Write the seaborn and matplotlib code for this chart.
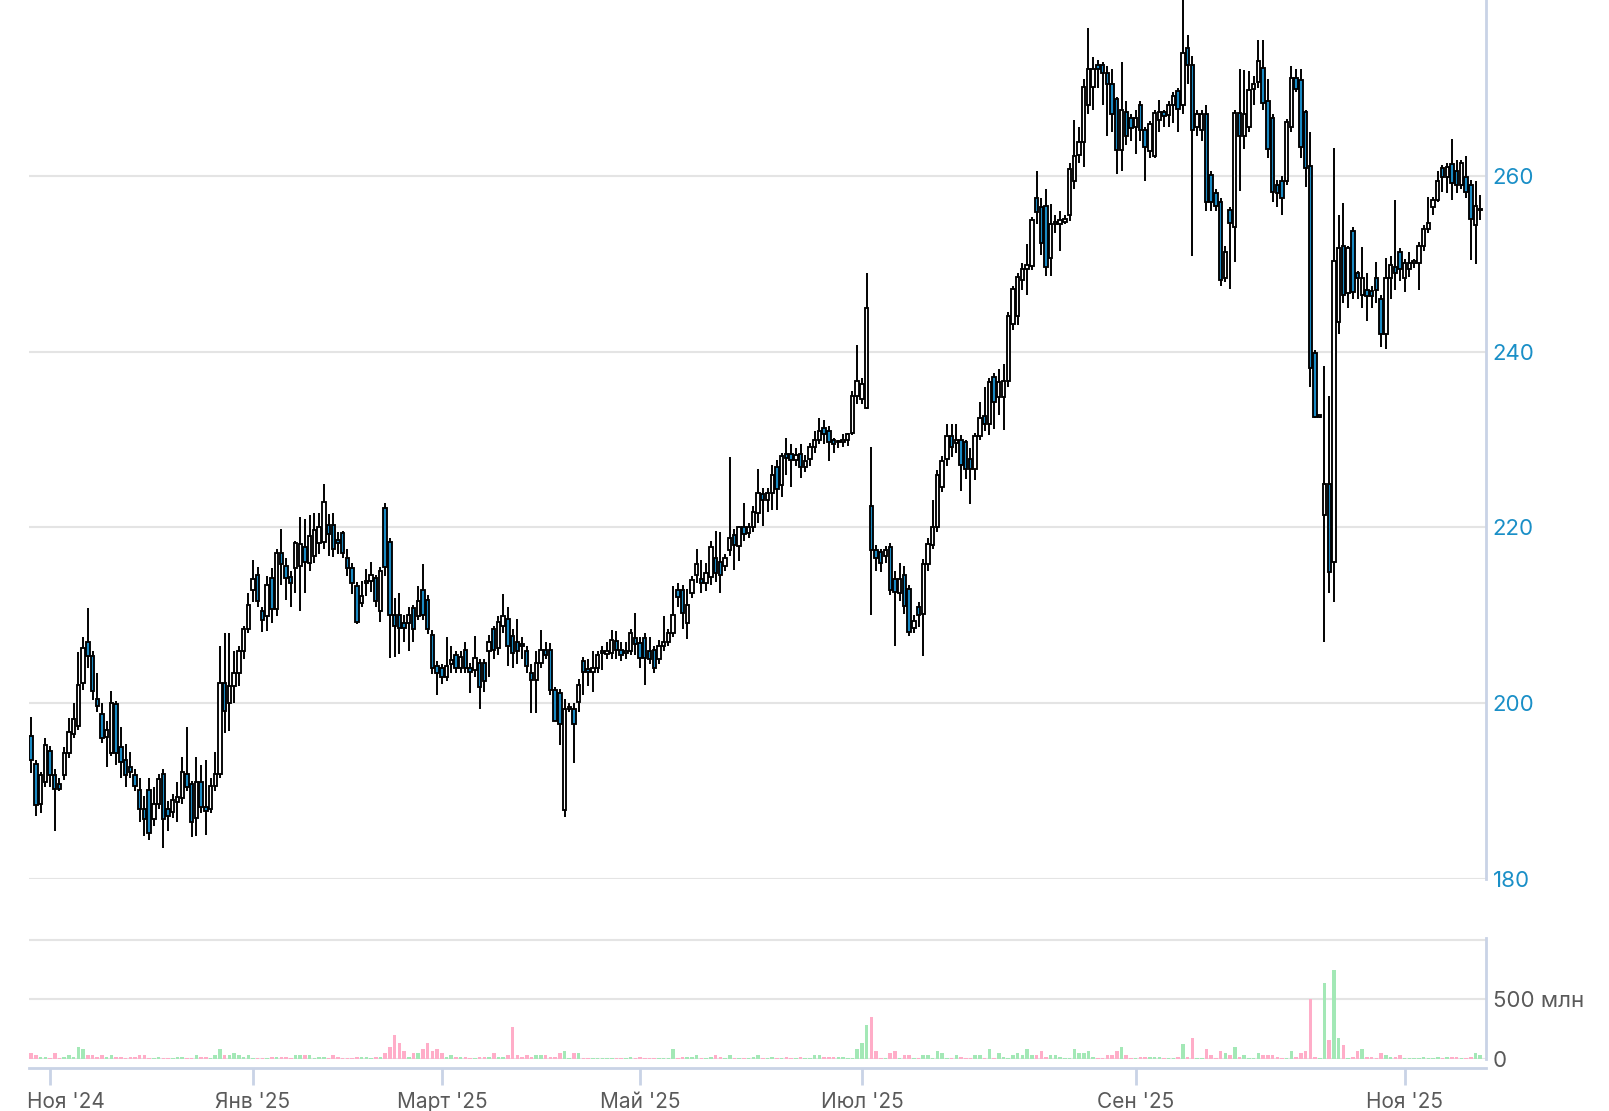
import numpy as np
import pandas as pd
import matplotlib
matplotlib.use("Agg")
import matplotlib.pyplot as plt
import matplotlib.transforms as mtransforms
import seaborn as sns

# ---- data (daily candles, rub) ----
opens = [196.3,193.1,188.5,191.0,194.6,191.8,190.8,191.8,194.4,196.5,197.4,202.3,207.0,205.4,200.5,198.8,196.2,194.4,199.9,195.0,
193.5,192.8,191.9,190.1,188.0,190.1,186.8,188.5,192.0,188.0,187.6,188.8,189.2,192.0,190.8,187.0,191.1,188.2,188.0,190.6,
192.0,202.3,200.0,202.0,203.4,206.0,208.4,212.9,214.6,210.5,209.9,214.3,210.7,217.1,215.6,214.4,215.4,215.6,217.8,216.0,
216.7,218.2,218.4,220.3,220.3,218.6,219.4,216.5,215.4,213.4,211.4,213.7,213.9,214.2,210.5,222.2,218.3,210.1,210.1,209.1,
209.1,210.8,209.9,212.9,211.8,207.8,204.2,204.0,203.0,204.5,205.5,204.0,206.1,204.0,203.8,204.6,204.6,205.9,208.4,206.3,
208.8,209.6,207.6,207.0,206.8,205.9,203.4,202.7,204.6,206.1,206.1,201.5,201.2,187.9,199.3,199.4,200.2,204.8,203.9,203.6,
204.0,205.7,205.6,205.7,207.1,206.1,205.7,205.9,207.4,206.9,207.4,205.9,206.1,205.0,206.5,207.0,208.0,212.9,212.9,209.1,
212.5,214.6,214.1,213.7,214.4,216.5,216.1,215.6,217.4,219.2,217.9,220.0,219.4,220.0,221.6,223.8,223.1,223.9,226.9,224.8,
228.4,228.4,227.7,228.4,226.9,227.8,229.2,229.9,231.3,231.0,229.9,229.7,229.7,229.9,230.8,235.0,234.6,233.6,222.5,217.4,
217.2,216.8,217.8,214.1,212.6,214.6,213.0,208.6,210.9,210.2,215.8,218.0,220.0,224.6,227.8,230.4,229.6,229.9,229.7,227.8,
226.7,230.4,232.7,231.8,237.1,234.8,234.8,236.7,243.2,244.0,248.2,249.4,249.7,257.5,256.4,256.6,250.6,254.5,254.5,254.8,
255.5,259.4,262.4,263.8,268.0,270.1,272.6,272.6,271.7,270.5,268.7,262.9,267.3,266.6,265.6,268.0,265.2,262.8,262.3,266.4,
267.3,266.9,268.0,269.7,268.0,274.5,272.6,265.6,265.2,267.0,260.1,258.0,257.0,248.4,256.1,254.2,267.1,264.5,265.5,269.9,
270.7,272.3,268.5,266.6,259.0,259.4,259.4,265.6,271.1,270.9,267.3,261.1,239.8,232.6,221.4,225.0,216.1,243.4,252.0,246.7,
253.7,248.9,246.5,247.0,246.9,248.4,246.0,242.0,248.4,249.6,251.3,248.4,249.4,250.1,250.1,252.0,253.9,256.4,257.3,260.9,
259.9,261.3,260.6,259.0,259.9,258.9,254.4,256.1]
highs = [198.4,193.5,192.2,196.0,195.2,192.5,191.5,195.0,198.3,200.0,205.8,207.5,210.8,206.0,203.5,200.0,198.0,201.4,200.3,197.3,
195.4,194.5,192.5,191.5,189.5,191.5,190.5,192.0,192.5,188.9,189.7,191.0,193.9,197.3,191.2,193.9,193.0,193.5,191.5,194.5,
206.5,208.0,208.0,206.0,206.5,208.8,212.5,216.3,215.5,211.0,214.5,215.4,217.5,219.8,216.5,215.0,218.5,221.2,221.0,221.4,
221.6,221.7,225.0,221.5,221.6,219.5,219.6,217.5,216.0,213.8,213.9,215.3,216.1,214.6,215.5,222.8,218.8,212.0,212.5,210.0,
211.0,211.2,213.3,215.8,212.3,208.3,204.8,204.5,207.5,206.5,206.0,206.0,207.0,204.6,207.6,205.0,205.0,207.8,208.8,209.9,
212.4,211.0,208.5,209.6,207.5,206.5,204.5,206.0,208.3,207.0,206.9,201.9,201.6,200.5,200.0,200.0,202.8,205.3,205.0,206.0,
206.0,206.5,207.0,208.3,208.2,207.0,207.0,208.4,210.3,207.5,208.0,207.5,206.5,207.2,209.9,208.5,213.3,213.7,213.5,213.0,
214.5,217.6,216.3,216.0,218.5,219.6,219.5,217.0,228.0,219.8,220.2,222.8,220.5,222.5,226.7,224.5,224.5,227.1,227.7,228.5,
230.2,229.5,229.0,229.5,228.3,229.6,231.0,232.4,232.2,231.5,230.2,230.0,230.6,230.8,235.5,240.8,237.0,249.0,229.1,218.0,
217.5,217.9,218.2,215.0,216.0,215.6,213.5,210.0,211.5,216.4,218.8,223.1,226.5,228.1,231.8,231.8,231.8,230.5,230.0,229.0,
230.8,234.3,236.0,237.0,237.6,238.0,238.6,244.5,247.5,249.0,250.1,252.2,255.3,260.5,257.5,258.5,256.8,255.5,256.0,255.5,
261.5,266.4,265.5,271.0,276.8,273.5,273.2,273.0,272.5,272.1,269.0,273.0,268.5,267.0,267.5,268.5,265.5,266.2,267.5,268.6,
267.5,268.5,269.5,270.0,280.0,276.0,273.6,267.5,267.5,268.0,260.5,258.5,257.5,252.0,256.5,267.5,272.1,272.0,271.9,271.3,
275.5,275.5,271.0,267.0,259.5,260.0,266.5,272.5,272.1,272.1,267.5,265.0,240.2,232.8,238.4,235.0,263.2,255.5,256.9,252.0,
254.2,249.2,251.9,249.0,247.5,250.2,246.5,250.7,250.9,257.2,251.8,250.5,251.3,250.5,252.5,254.4,257.6,257.6,260.6,261.2,
261.5,264.2,261.8,261.8,262.2,259.5,259.4,257.8]
lows = [192.1,187.2,187.5,190.5,190.5,185.5,190.0,191.3,193.8,196.0,197.0,201.5,204.0,200.4,199.0,195.5,192.7,194.0,193.0,191.5,
190.5,191.5,190.0,186.5,184.9,184.4,186.0,188.0,183.5,185.5,187.0,186.5,188.5,190.0,184.8,184.9,187.5,185.0,187.5,190.0,
191.5,196.6,196.8,200.0,202.0,205.0,208.0,211.5,210.9,208.1,208.2,209.1,209.9,213.5,211.7,211.0,212.5,210.5,212.5,215.0,
216.0,217.0,217.5,216.7,216.6,217.0,216.5,214.5,212.4,209.0,210.9,212.2,212.7,210.9,209.3,214.5,205.2,205.3,205.6,207.0,
206.0,207.0,209.5,209.5,207.9,203.3,201.0,202.2,202.5,203.5,203.5,203.5,203.5,201.2,203.0,199.3,201.3,203.0,205.0,205.5,
208.0,204.3,204.0,204.5,205.0,203.5,198.9,198.9,204.0,205.0,201.0,198.0,195.3,187.1,199.0,193.2,199.0,201.0,202.0,201.3,
203.4,203.8,205.0,205.0,205.0,204.8,205.0,205.5,205.5,204.0,202.1,204.5,203.5,204.5,206.0,206.5,207.5,211.0,208.5,207.3,
212.0,213.7,212.5,212.8,213.5,213.8,212.5,215.0,216.8,215.2,216.2,218.5,218.8,219.5,220.5,220.2,221.8,222.0,222.0,223.5,
226.0,224.6,227.0,225.6,226.3,227.0,228.5,229.5,229.5,227.6,228.5,229.0,229.2,229.3,230.5,234.0,234.0,233.5,210.0,215.0,
214.9,216.0,212.3,206.5,211.6,210.2,207.6,208.0,208.7,205.4,215.0,217.5,219.5,224.0,227.0,228.0,228.5,224.2,225.5,222.7,
225.4,230.0,231.0,230.5,231.2,232.8,231.1,236.0,242.5,243.0,247.0,246.5,249.3,254.5,251.0,248.6,248.6,253.5,251.5,254.5,
254.9,258.5,261.5,261.0,267.0,267.5,270.0,268.0,264.5,265.0,260.2,260.5,263.5,264.0,262.5,264.0,259.4,262.0,262.0,265.0,
265.6,265.5,266.0,265.0,267.0,270.5,250.9,264.5,264.0,256.0,256.0,256.0,247.5,247.9,247.1,250.2,258.3,263.0,265.0,268.0,
270.0,267.5,262.0,257.0,256.5,255.5,259.0,265.0,269.5,262.0,258.7,236.0,232.5,232.4,207.0,212.5,211.5,242.0,245.5,245.0,
246.0,246.0,245.0,243.5,245.0,245.5,240.5,240.3,246.0,247.0,248.0,246.8,248.5,249.5,247.0,251.5,253.5,255.6,257.0,258.2,
258.0,257.3,258.0,258.5,257.5,250.4,250.0,255.0]
closes = [193.6,188.4,191.8,195.3,191.8,190.2,190.3,194.4,196.7,198.2,202.1,206.3,205.4,201.4,199.7,196.1,197.0,200.0,194.4,193.3,
191.8,192.2,190.6,188.0,186.8,185.3,188.5,191.4,186.8,187.2,189.0,189.3,192.2,190.5,186.5,191.1,188.2,187.7,190.6,192.0,
202.3,199.1,202.0,203.4,206.0,208.4,211.2,214.1,211.6,209.5,213.5,210.7,217.1,215.8,214.3,213.7,218.2,218.1,216.1,219.0,
219.7,220.1,222.9,219.3,217.5,218.2,217.1,215.4,213.7,209.3,212.2,213.9,214.6,211.6,215.0,215.5,210.1,208.8,208.6,208.6,
210.1,208.4,211.6,210.1,208.4,204.0,203.4,203.0,204.2,204.9,204.0,205.3,204.0,203.6,205.2,201.9,202.5,207.0,206.1,209.3,
209.9,206.5,205.7,205.9,206.5,204.2,202.7,204.6,206.1,205.5,201.5,198.0,197.7,199.3,199.6,197.6,202.1,203.6,203.6,204.0,
205.5,205.9,206.0,207.2,206.1,205.5,206.0,208.0,206.7,205.2,205.2,205.0,204.0,206.5,207.0,208.0,210.1,212.1,210.3,211.2,
214.0,215.9,213.7,214.8,217.8,214.8,214.6,216.5,218.8,218.0,220.0,219.3,220.0,221.8,223.9,223.1,223.9,226.0,224.4,228.1,
227.9,227.7,228.2,226.9,227.6,229.2,229.9,231.0,230.6,229.7,229.5,229.8,230.0,230.6,235.0,236.7,236.3,245.0,217.4,216.5,
216.0,217.4,212.9,212.7,214.1,211.1,208.1,209.4,210.0,215.8,218.1,220.0,226.0,227.6,230.4,229.2,230.0,227.1,226.7,226.7,
230.4,232.5,231.8,236.5,234.3,236.5,236.7,244.1,247.1,248.5,249.4,249.9,255.0,255.9,252.4,249.6,254.5,254.8,255.0,255.1,
260.8,262.2,263.8,270.1,272.2,272.2,272.2,271.7,270.5,267.0,262.9,267.5,264.5,265.4,266.6,265.2,263.3,265.9,267.1,267.3,
266.8,268.0,269.1,267.6,274.0,272.6,265.2,267.0,267.0,257.0,257.0,256.6,248.2,251.3,254.6,267.1,264.5,267.0,269.8,270.5,
273.1,268.3,263.0,258.2,258.0,257.5,266.1,271.1,269.9,263.3,260.9,238.1,232.6,232.6,225.0,214.9,250.3,251.8,246.5,251.8,
246.8,248.4,248.4,246.3,246.3,247.0,242.0,248.4,249.9,249.0,249.4,250.1,250.1,250.3,252.0,253.9,254.6,257.3,259.4,259.9,
261.0,259.2,259.0,261.5,258.2,255.1,256.6,256.1]
volumes_mln = [50,34,17,17,5,50,5,17,34,17,100,84,34,34,17,34,17,34,17,17,
5,17,17,34,34,5,5,17,5,5,5,17,17,5,5,34,17,17,5,34,
84,34,34,50,34,17,34,5,5,5,5,17,17,17,17,5,34,34,34,34,
5,17,17,5,34,17,5,5,5,17,17,17,5,17,17,50,100,200,135,67,
17,50,50,84,135,67,84,50,17,34,17,17,17,5,5,17,17,17,50,17,
17,34,270,34,17,34,17,34,34,34,17,17,50,67,5,50,50,5,5,5,
5,5,5,5,5,5,5,17,5,17,5,5,5,5,5,5,84,5,17,17,
17,34,5,5,17,34,17,5,34,5,5,5,5,17,34,5,5,17,5,5,
17,5,5,17,5,5,34,34,17,17,17,17,17,5,5,84,135,280,350,67,
5,5,50,67,5,34,34,5,5,34,34,5,67,50,5,5,34,17,5,5,
34,34,5,84,5,50,17,5,34,50,34,84,34,34,67,17,34,34,17,5,
5,84,50,50,67,17,5,5,34,34,67,100,34,5,5,17,17,17,17,17,
5,5,5,17,120,17,170,5,5,84,34,5,67,50,34,100,17,34,5,5,
50,34,34,34,17,5,5,67,17,50,67,500,17,5,640,155,745,170,118,5,
17,67,84,17,17,5,50,34,17,17,34,5,5,5,5,17,5,5,17,5,
17,17,17,5,5,17,50,34]
tick_idx = [4, 47, 87, 129, 176, 234, 291]
tick_labels = ["Ноя '24", "Янв '25", "Март '25", "Май '25", "Июл '25", "Сен '25", "Ноя '25"]
price_ticks = [180, 200, 220, 240, 260]
volume_ticks = [0, 500, 1000]
volume_labels = ["0", "500 млн", ""]

# ---- style ----
sns.set_theme(style="white")
plt.rcParams['font.family'] = ['Inter', 'DejaVu Sans']

AXIS_C = "#c9d3e6"
GRID_C = "#e4e4e4"
BLUE = "#1a8ac4"
LABEL_BLUE = "#1a8fc7"
GREY_TXT = "#5a5a5a"

n = len(closes)
df = pd.DataFrame({"i": np.arange(n), "open": opens, "high": highs,
                   "low": lows, "close": closes, "volume": volumes_mln})
df["dir"] = np.where(df["close"] >= df["open"], "up", "down")

fig = plt.figure(figsize=(16.09, 11.11), dpi=100)
ax = fig.add_axes([0.0179, 0.2087, 0.9056, 0.7913])
axv = fig.add_axes([0.0179, 0.0471, 0.9056, 0.1089])

# ---- candles ----
ax.vlines(df["i"], df["low"], df["high"], color="black", linewidth=1.4, zorder=2)
body_bottom = np.minimum(df["open"], df["close"])
body_h = np.maximum((df["close"] - df["open"]).abs(), 0.15)
fill = np.where(df["dir"] == "up", "white", BLUE)
ax.bar(df["i"], body_h, bottom=body_bottom, width=0.72, color=fill,
       edgecolor="black", linewidth=1.35, zorder=3)

xlim = (-0.5, n + 0.2)
ax.set_xlim(*xlim)
ax.set_ylim(180, 280)
ax.set_yticks(price_ticks)
ax.yaxis.tick_right()
ax.tick_params(axis="y", length=0, pad=5, labelsize=16, labelcolor=LABEL_BLUE)
ax.set_xticks([])
ax.yaxis.grid(True, color=GRID_C, linewidth=1.5)
ax.set_axisbelow(True)
for s in ["top", "left", "bottom"]:
    ax.spines[s].set_visible(False)
ax.spines["right"].set_color(AXIS_C)
ax.spines["right"].set_linewidth(2)

# ---- volume ----
sns.barplot(data=df, x="i", y="volume", hue="dir",
            palette={"up": "#a3e8b6", "down": "#ffadc8"},
            native_scale=True, dodge=False, width=0.75, errorbar=None,
            saturation=1, legend=False, linewidth=0, ax=axv)
axv.set_xlim(*xlim)
axv.set_ylim(0, 1017)
axv.set_yticks(volume_ticks)
axv.set_yticklabels(volume_labels)
axv.yaxis.tick_right()
axv.tick_params(axis="y", length=0, pad=5, labelsize=16, labelcolor=GREY_TXT)
axv.yaxis.grid(True, color=GRID_C, linewidth=1.5)
axv.set_axisbelow(True)
axv.set_xlabel("")
axv.set_ylabel("")
axv.set_xticks(tick_idx)
axv.set_xticklabels(tick_labels)
axv.tick_params(axis="x", bottom=True, direction="out", length=12.5, width=2,
                color=AXIS_C, pad=5, labelsize=15, labelcolor=GREY_TXT)
for s in ["top", "left"]:
    axv.spines[s].set_visible(False)
axv.spines["right"].set_color(AXIS_C)
axv.spines["right"].set_linewidth(2)
axv.spines["bottom"].set_color(AXIS_C)
axv.spines["bottom"].set_linewidth(2)
axv.spines["bottom"].set_position(("outward", 6.5))

# first label kept inside the plot area (left aligned to the plot edge)
first = axv.get_xticklabels()[0]
first.set_horizontalalignment("left")
first.set_transform(first.get_transform() +
                    mtransforms.ScaledTranslation(-0.226, 0, fig.dpi_scale_trans))

fig.savefig("out.png", dpi=100)
